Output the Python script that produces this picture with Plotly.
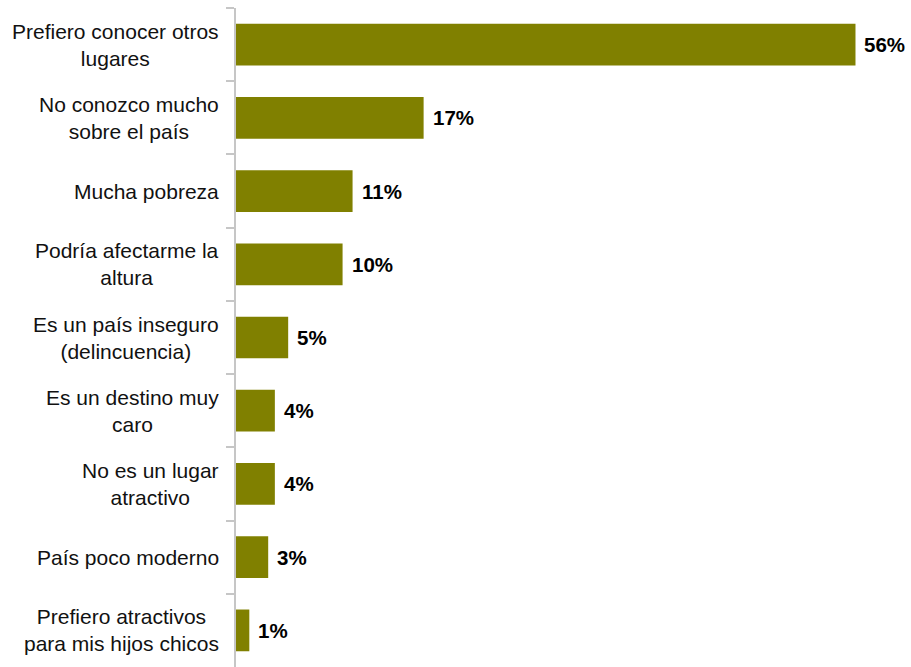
import plotly.graph_objects as go

categories = [
    "Prefiero conocer otros<br>lugares",
    "No conozco mucho<br>sobre el país",
    "Mucha pobreza",
    "Podría afectarme la<br>altura",
    "Es un país inseguro<br>(delincuencia)",
    "Es un destino muy<br>caro",
    "No es un lugar<br>atractivo",
    "País poco moderno",
    "Prefiero atractivos<br>para mis hijos chicos",
]
values = [55.8, 16.9, 10.5, 9.6, 4.7, 3.5, 3.5, 2.9, 1.2]
labels = ["56%", "17%", "11%", "10%", "5%", "4%", "4%", "3%", "1%"]

FONT = "Liberation Sans, Arial"

fig = go.Figure(
    go.Bar(
        y=categories,
        x=values,
        orientation="h",
        marker=dict(color="#808000", line=dict(width=0)),
        hoverinfo="skip",
    )
)

for c, v, t in zip(categories, values, labels):
    fig.add_annotation(
        x=v, y=c, xref="x", yref="y",
        text=t, showarrow=False,
        xanchor="left", yanchor="middle", xshift=7,
        font=dict(family=FONT, size=20.5, color="#000000", weight="bold"),
    )
    # category label, centred multi-line, right-anchored left of the axis
    fig.add_annotation(
        x=0, y=c, xref="paper", yref="y",
        text=c, showarrow=False,
        xanchor="right", yanchor="middle", xshift=-15, align="center",
        font=dict(family=FONT, size=21, color="#111111"),
    )

fig.update_layout(
    width=911,
    height=667,
    margin=dict(l=236, r=0, t=8, b=0),
    paper_bgcolor="white",
    plot_bgcolor="white",
    bargap=0.43,
    showlegend=False,
    font=dict(family=FONT, size=21, color="#000000"),
)
fig.update_xaxes(
    range=[0, 60.8],
    visible=False,
    showgrid=False,
    zeroline=False,
)
fig.update_yaxes(
    autorange="reversed",
    showline=True,
    linecolor="#c6c6c6",
    linewidth=2,
    ticks="outside",
    tickson="boundaries",
    ticklen=8,
    tickwidth=2,
    tickcolor="#c6c6c6",
    showgrid=False,
    showticklabels=False,
)

fig.write_html("out.html")
